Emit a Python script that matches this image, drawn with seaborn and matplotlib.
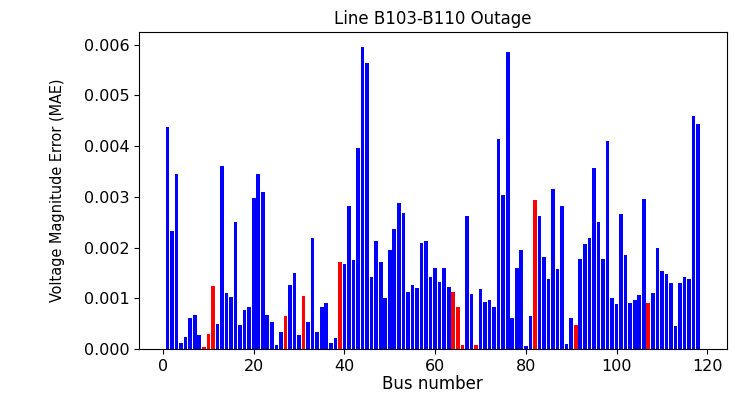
import matplotlib
matplotlib.use("Agg")
import matplotlib.pyplot as plt
import pandas as pd
import seaborn as sns

# Bus numbers of the IEEE 118-bus system
bus_numbers = list(range(1, 119))

# Mean absolute voltage magnitude error per bus (x 1e-3)
mae_milli = [
    4.37, 2.33, 3.45, 0.11, 0.23, 0.62, 0.67, 0.27, 0.04, 0.29,
    1.24, 0.49, 3.60, 1.10, 1.02, 2.50, 0.47, 0.76, 0.83, 2.97,
    3.45, 3.10, 0.67, 0.53, 0.08, 0.33, 0.65, 1.27, 1.50, 0.28,
    1.04, 0.53, 2.19, 0.33, 0.83, 0.90, 0.11, 0.22, 1.72, 1.68,
    2.81, 1.75, 3.97, 5.95, 5.63, 1.42, 2.13, 1.71, 1.00, 1.95,
    2.36, 2.88, 2.68, 1.12, 1.27, 1.20, 2.09, 2.13, 1.42, 1.60,
    1.32, 1.60, 1.22, 1.13, 0.82, 0.07, 2.62, 1.09, 0.07, 1.18,
    0.92, 0.97, 0.82, 4.14, 3.03, 5.86, 0.62, 1.60, 1.95, 0.05,
    0.66, 2.93, 2.62, 1.82, 1.38, 3.16, 1.58, 2.81, 0.10, 0.62,
    0.47, 1.78, 2.07, 2.18, 3.57, 2.50, 1.77, 4.10, 1.01, 0.88,
    2.67, 1.85, 0.90, 0.96, 1.07, 2.95, 0.90, 1.10, 2.00, 1.53,
    1.47, 1.30, 0.45, 1.30, 1.41, 1.37, 4.60, 4.43,
]

# Buses highlighted in red
highlighted_buses = [9, 10, 11, 27, 31, 39, 64, 65, 66, 69, 82, 91, 107]

df = pd.DataFrame({
    "bus": bus_numbers,
    "mae": [v * 1e-3 for v in mae_milli],
    "group": ["red" if b in highlighted_buses else "blue" for b in bus_numbers],
})

fig = plt.figure(figsize=(7.44, 3.96), dpi=100)
ax = fig.add_axes([0.1868, 0.1187, 0.790, 0.8005])

sns.barplot(
    data=df, x="bus", y="mae", hue="group",
    palette={"blue": "blue", "red": "red"},
    native_scale=True, dodge=False, saturation=1,
    errorbar=None, legend=False, linewidth=0, ax=ax,
)

ax.set_title("Line B103-B110 Outage", fontsize=12)
ax.set_xlabel("Bus number", fontsize=12, labelpad=1)
ax.set_ylabel("Voltage Magnitude Error (MAE)", fontsize=11.6,
              fontstretch="condensed", labelpad=13)
ax.tick_params(labelsize=11.5)

fig.savefig("out.png", dpi=100)
